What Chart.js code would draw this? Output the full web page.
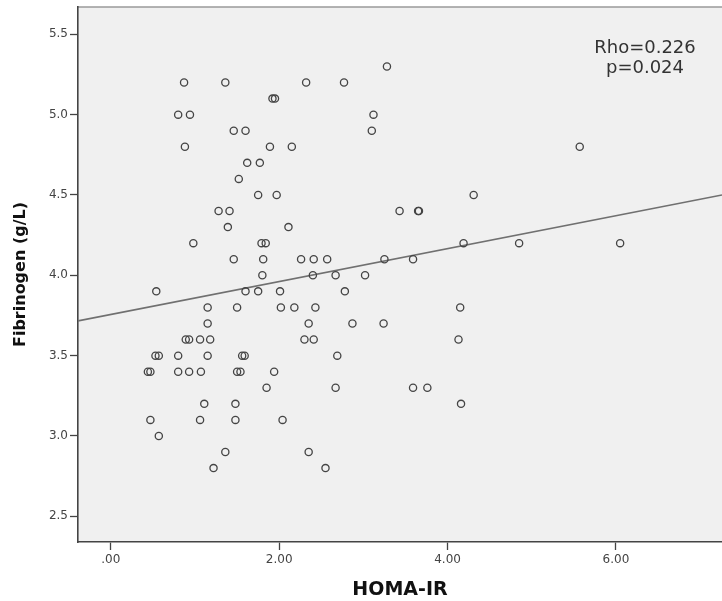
<!DOCTYPE html>
<html>
<head>
<meta charset="utf-8">
<script src="https://cdn.jsdelivr.net/npm/chart.js@4.4.1/dist/chart.umd.min.js"></script>
<style>
  html, body { margin: 0; padding: 0; background: #fff; overflow: hidden; }
  #wrap { width: 722px; height: 601px; }
  #scatter { display: block; }
</style>
</head>
<body>
<div id="wrap"><canvas id="scatter" width="722" height="601"></canvas></div>
<script>
// HOMA-IR vs fibrinogen, one entry per subject
const homaIR = [
  3.28,
  0.87, 1.36, 2.32, 2.77,
  1.92, 1.95,
  0.80, 0.94, 3.12,
  1.46, 1.60, 3.10,
  0.88, 1.89, 2.15, 5.57,
  1.62, 1.77,
  1.52,
  1.75, 1.97, 4.31,
  1.28, 1.41, 3.43, 3.65, 3.66,
  1.39, 2.11,
  0.98, 1.79, 1.84, 4.19, 4.85, 6.05,
  1.46, 1.81, 2.26, 2.41, 2.57, 3.25, 3.59,
  1.80, 2.40, 2.67, 3.02,
  0.54, 1.60, 1.75, 2.01, 2.78,
  1.15, 1.50, 2.02, 2.18, 2.43, 4.15,
  1.15, 2.35, 2.87, 3.24,
  0.89, 0.93, 1.06, 1.18, 2.30, 2.41, 4.13,
  0.53, 0.57, 0.80, 1.15, 1.56, 1.59, 2.69,
  0.44, 0.47, 0.80, 0.93, 1.07, 1.50, 1.54, 1.94,
  1.85, 2.67, 3.59, 3.76,
  1.11, 1.48, 4.16,
  0.47, 1.06, 1.48, 2.04,
  0.57,
  1.36, 2.35,
  1.22, 2.55
];
const fibrinogen = [
  5.3,
  5.2, 5.2, 5.2, 5.2,
  5.1, 5.1,
  5.0, 5.0, 5.0,
  4.9, 4.9, 4.9,
  4.8, 4.8, 4.8, 4.8,
  4.7, 4.7,
  4.6,
  4.5, 4.5, 4.5,
  4.4, 4.4, 4.4, 4.4, 4.4,
  4.3, 4.3,
  4.2, 4.2, 4.2, 4.2, 4.2, 4.2,
  4.1, 4.1, 4.1, 4.1, 4.1, 4.1, 4.1,
  4.0, 4.0, 4.0, 4.0,
  3.9, 3.9, 3.9, 3.9, 3.9,
  3.8, 3.8, 3.8, 3.8, 3.8, 3.8,
  3.7, 3.7, 3.7, 3.7,
  3.6, 3.6, 3.6, 3.6, 3.6, 3.6, 3.6,
  3.5, 3.5, 3.5, 3.5, 3.5, 3.5, 3.5,
  3.4, 3.4, 3.4, 3.4, 3.4, 3.4, 3.4, 3.4,
  3.3, 3.3, 3.3, 3.3,
  3.2, 3.2, 3.2,
  3.1, 3.1, 3.1, 3.1,
  3.0,
  2.9, 2.9,
  2.8, 2.8
];

// fit line, ends at the plot edges
const fitX = [-0.39, 7.26];
const fitY = [3.716, 4.50];

const xTicks = [0, 2, 4, 6];
const yTicks = [2.5, 3.0, 3.5, 4.0, 4.5, 5.0, 5.5];
const statLines = ['Rho=0.226', 'p=0.024'];

const points = homaIR.map((x, i) => ({ x: x, y: fibrinogen[i] }));
const fitLine = fitX.map((x, i) => ({ x: x, y: fitY[i] }));

const plotBackground = {
  id: 'plotBackground',
  beforeDraw(chart) {
    const { ctx, chartArea: a } = chart;
    ctx.save();
    ctx.fillStyle = '#f0f0f0';
    ctx.fillRect(a.left, a.top, a.right - a.left, a.bottom - a.top);
    ctx.strokeStyle = '#9a9a9a';
    ctx.lineWidth = 1.5;
    ctx.beginPath();
    ctx.moveTo(a.left, a.top);
    ctx.lineTo(a.right, a.top);
    ctx.stroke();
    ctx.restore();
  }
};

const statsText = {
  id: 'statsText',
  afterDraw(chart) {
    const { ctx, chartArea: a } = chart;
    ctx.save();
    ctx.font = '18px "DejaVu Sans"';
    ctx.fillStyle = '#333';
    ctx.textAlign = 'center';
    ctx.textBaseline = 'alphabetic';
    statLines.forEach((t, i) => {
      ctx.fillText(t, a.right - 77, a.top + 46 + i * 20);
    });
    ctx.restore();
  }
};

new Chart(document.getElementById('scatter'), {
  type: 'scatter',
  data: {
    datasets: [
      {
        data: points,
        pointStyle: 'circle',
        pointRadius: 3.6,
        pointHoverRadius: 3.6,
        pointBorderWidth: 1.3,
        pointBackgroundColor: 'rgba(0,0,0,0)',
        pointBorderColor: '#444'
      },
      {
        type: 'line',
        data: fitLine,
        borderColor: '#707070',
        borderWidth: 1.6,
        pointRadius: 0,
        fill: false
      }
    ]
  },
  plugins: [plotBackground, statsText],
  options: {
    responsive: false,
    animation: false,
    layout: { autoPadding: false, padding: { top: 7, right: 0, left: 0, bottom: 0 } },
    plugins: { legend: { display: false }, tooltip: { enabled: false } },
    scales: {
      x: {
        type: 'linear',
        min: -0.39,
        max: 7.26,
        afterBuildTicks: s => { s.ticks = xTicks.map(v => ({ value: v })); },
        afterFit: s => { s.height = 59; s.paddingLeft = 0; s.paddingRight = 0; },
        grid: { drawOnChartArea: false, drawTicks: true, tickLength: 8, tickWidth: 1.3, color: '#444' },
        border: { display: true, color: '#444', width: 1.6 },
        ticks: {
          padding: 3,
          color: '#444',
          font: { family: 'DejaVu Sans', size: 12 },
          callback: v => v === 0 ? '.00' : v.toFixed(2)
        },
        title: {
          display: true,
          text: 'HOMA-IR',
          color: '#111',
          font: { family: 'DejaVu Sans', size: 19, weight: 'bold' },
          padding: { top: 0, bottom: 0 }
        }
      },
      y: {
        type: 'linear',
        min: 2.34,
        max: 5.67,
        afterBuildTicks: s => { s.ticks = yTicks.map(v => ({ value: v })); },
        afterFit: s => { s.width = 78; s.paddingTop = 0; s.paddingBottom = 0; },
        grid: { drawOnChartArea: false, drawTicks: true, tickLength: 8, tickWidth: 1.3, color: '#444' },
        border: { display: true, color: '#444', width: 1.6 },
        ticks: {
          padding: 2,
          color: '#444',
          font: { family: 'DejaVu Sans', size: 12 },
          callback: v => v.toFixed(1)
        },
        title: {
          display: true,
          text: 'Fibrinogen (g/L)',
          color: '#111',
          font: { family: 'DejaVu Sans', size: 16, weight: 'bold' },
          padding: { top: 11, bottom: 0 }
        }
      }
    }
  }
});
</script>
</body>
</html>
